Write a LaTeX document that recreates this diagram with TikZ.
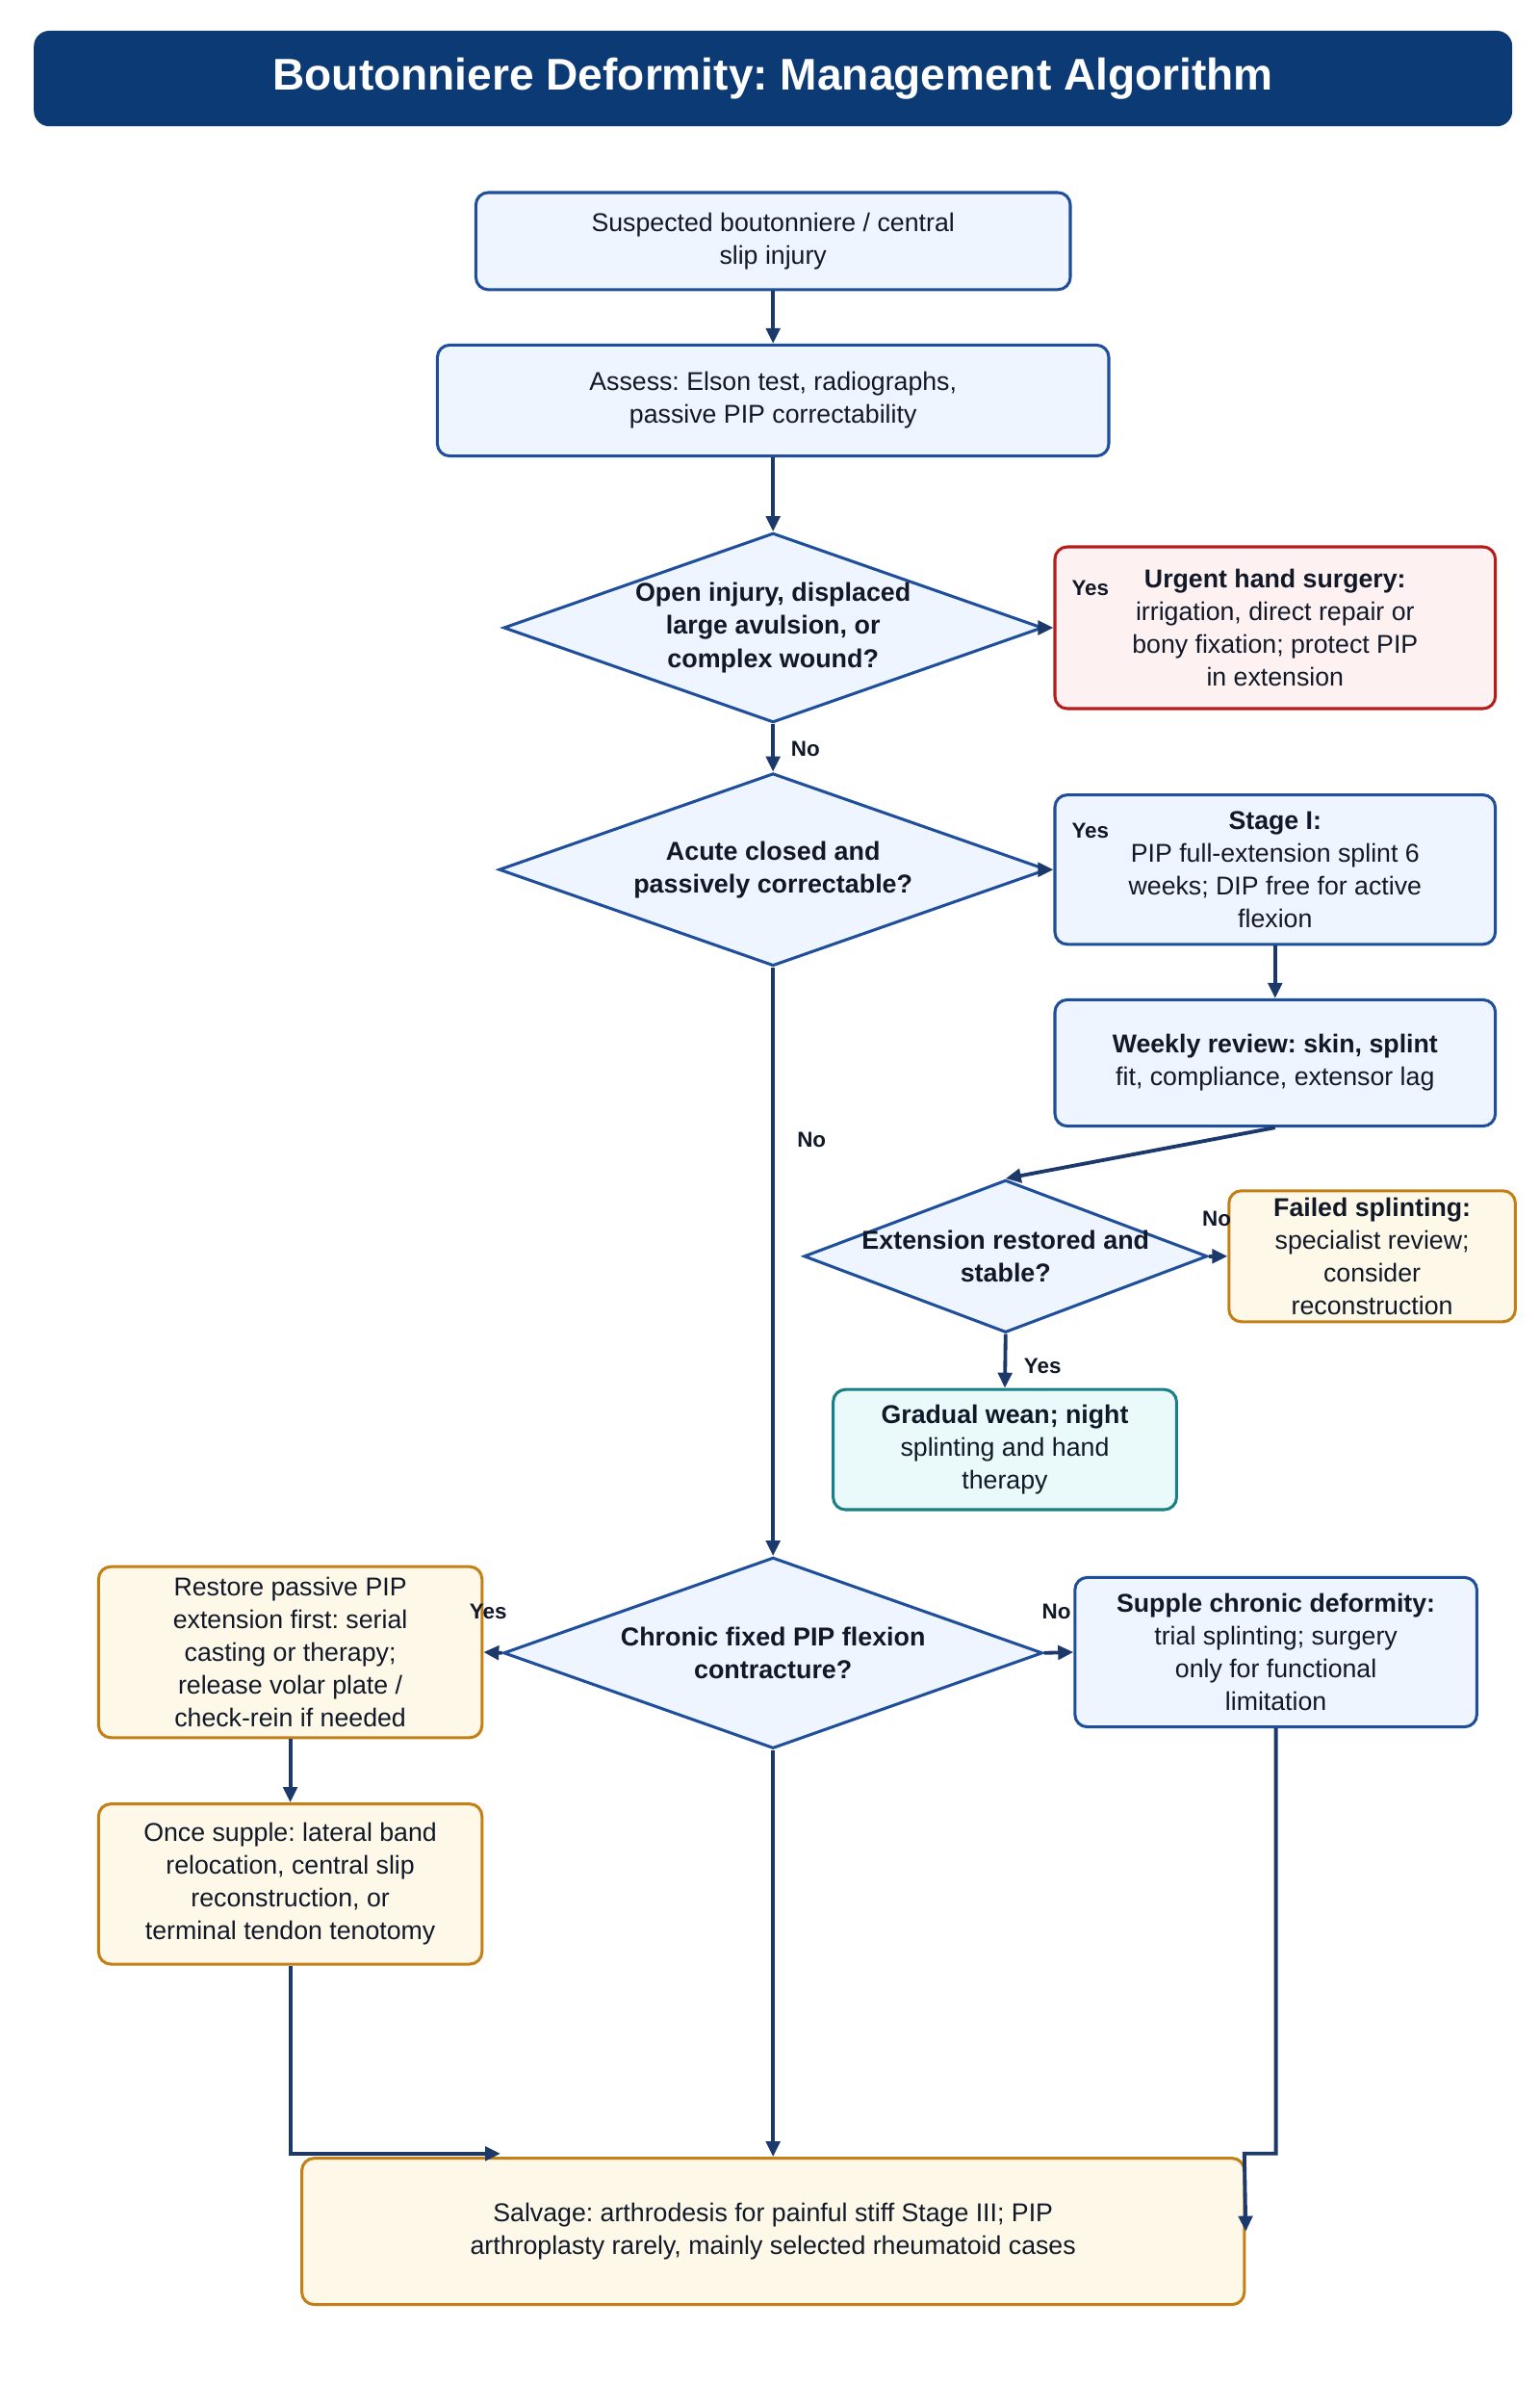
\documentclass[tikz,border=0pt]{standalone}
\usepackage{fontspec}
\setmainfont{Liberation Sans}
\usetikzlibrary{shapes.geometric,arrows.meta,positioning}
\frenchspacing

\definecolor{titleblue}{HTML}{0B3A75}
\definecolor{arrowblue}{HTML}{1B3A6B}
\definecolor{ink}{HTML}{111827}
\definecolor{blueline}{HTML}{1F4E9A}
\definecolor{bluefill}{HTML}{EEF5FE}
\definecolor{redline}{HTML}{B71C1C}
\definecolor{redfill}{HTML}{FDF1F1}
\definecolor{orangeline}{HTML}{C47F17}
\definecolor{orangefill}{HTML}{FEF8E8}
\definecolor{tealline}{HTML}{1A7F86}
\definecolor{tealfill}{HTML}{EAFAFA}

\tikzset{
  box/.style={rectangle, rounded corners=8pt, line width=1.9pt, align=center,
    inner sep=0pt, text=ink, font=\fontsize{16.7}{21.3}\selectfont},
  bluebox/.style={box, draw=blueline, fill=bluefill},
  redbox/.style={box, draw=redline, fill=redfill},
  orangebox/.style={box, draw=orangeline, fill=orangefill},
  tealbox/.style={box, draw=tealline, fill=tealfill},
  decision/.style={diamond, draw=blueline, fill=bluefill, line width=1.9pt, inner sep=0pt},
  dtext/.style={align=center, text=ink, font=\bfseries\fontsize{16.8}{21.3}\selectfont},
  arr/.style={draw=arrowblue, line width=2.4pt, -{Triangle[length=10pt,width=9pt]}},
  lbl/.style={text=ink, font=\bfseries\fontsize{14}{16}\selectfont},
}

\begin{document}
\begin{tikzpicture}[x=1pt,y=-1pt]
  \path[use as bounding box] (0,0) rectangle (1000,1562.5);

  % title
  \node[rectangle, rounded corners=10pt, fill=titleblue, text=white,
    minimum width=960pt, minimum height=62pt,
    font=\bfseries\fontsize{28.8}{32}\selectfont] (title) at (502,51)
    {Boutonniere Deformity: Management Algorithm};

  % main column
  \node[bluebox, minimum width=386pt, minimum height=63pt] (suspect) at (502,156.5)
    {Suspected boutonniere / central\\slip injury};
  \node[bluebox, minimum width=436pt, minimum height=72pt] (assess) at (502,260)
    {Assess: Elson test, radiographs,\\passive PIP correctability};
  \node[decision, minimum width=350pt, minimum height=123pt,
    label={[dtext]center:{Open injury, displaced\\large avulsion, or\\complex wound?}}] (open) at (502,407.5) {};
  \node[decision, minimum width=356pt, minimum height=125pt,
    label={[dtext]center:{Acute closed and\\passively correctable?}}] (acute) at (502,564.5) {};
  \node[decision, minimum width=350pt, minimum height=124pt,
    label={[dtext]center:{Chronic fixed PIP flexion\\contracture?}}] (chronic) at (502,1073) {};

  % right branch
  \node[redbox, minimum width=286pt, minimum height=105pt] (urgent) at (828,407.5)
    {{\bfseries Urgent hand surgery:}\\irrigation, direct repair or\\bony fixation; protect PIP\\in extension};
  \node[bluebox, minimum width=286pt, minimum height=97pt] (stageone) at (828,564.5)
    {{\bfseries Stage I:}\\PIP full-extension splint 6\\weeks; DIP free for active\\flexion};
  \node[bluebox, minimum width=286pt, minimum height=82pt] (weekly) at (828,690)
    {{\bfseries Weekly review: skin, splint}\\fit, compliance, extensor lag};
  \node[decision, minimum width=262pt, minimum height=99pt,
    label={[dtext]center:{Extension restored and\\stable?}}] (restored) at (653,815.5) {};
  \node[orangebox, minimum width=186pt, minimum height=85pt] (failed) at (891,815.5)
    {{\bfseries Failed splinting:}\\specialist review;\\consider\\reconstruction};
  \node[tealbox, minimum width=223pt, minimum height=78pt] (wean) at (652.5,941)
    {{\bfseries Gradual wean; night}\\splinting and hand\\therapy};

  % chronic branches
  \node[orangebox, minimum width=249pt, minimum height=111pt] (release) at (188.5,1072.5)
    {Restore passive PIP\\extension first: serial\\casting or therapy;\\release volar plate /\\check-rein if needed};
  \node[bluebox, minimum width=261pt, minimum height=97pt] (supple) at (828.5,1072.5)
    {{\bfseries Supple chronic deformity:}\\trial splinting; surgery\\only for functional\\limitation};
  \node[orangebox, minimum width=249pt, minimum height=104pt] (reconstr) at (188.5,1223)
    {Once supple: lateral band\\relocation, central slip\\reconstruction, or\\terminal tendon tenotomy};
  \node[orangebox, minimum width=612pt, minimum height=95pt] (salvage) at (502,1448.5)
    {Salvage: arthrodesis for painful stiff Stage III; PIP\\arthroplasty rarely, mainly selected rheumatoid cases};

  \coordinate (joinL) at (325,1398);
  \coordinate (joinR) at (808,1398);

  % connectors
  \draw[arr] (suspect.south) -- (assess.north);
  \draw[arr] (assess.south) -- (open.north);
  \draw[arr] (open.east) -- (urgent.west);
  \draw[arr] (open.south) -- (acute.north);
  \draw[arr] (acute.east) -- (stageone.west);
  \draw[arr] (acute.south) -- (chronic.north);
  \draw[arr] (stageone.south) -- (weekly.north);
  \draw[arr] (weekly.south) -- (restored.north);
  \draw[arr] (restored.east) -- (failed.west);
  \draw[arr] (restored.south) -- (wean.north);
  \draw[arr] (chronic.west) -- (release.east);
  \draw[arr] (chronic.east) -- (supple.west);
  \draw[arr] (release.south) -- (reconstr.north);
  \draw[arr] (reconstr.south) |- (joinL);
  \draw[arr] (chronic.south) -- (salvage.north);
  \draw[arr] (supple.south) |- (joinR) -- (salvage.east);

  % branch labels
  \node[lbl] at (708,382) {Yes};
  \node[lbl] at (523,486) {No};
  \node[lbl] at (708,539) {Yes};
  \node[lbl] at (527,740) {No};
  \node[lbl] at (790,791) {No};
  \node[lbl] at (677,887) {Yes};
  \node[lbl] at (317,1046) {Yes};
  \node[lbl] at (686,1046) {No};
\end{tikzpicture}
\end{document}
